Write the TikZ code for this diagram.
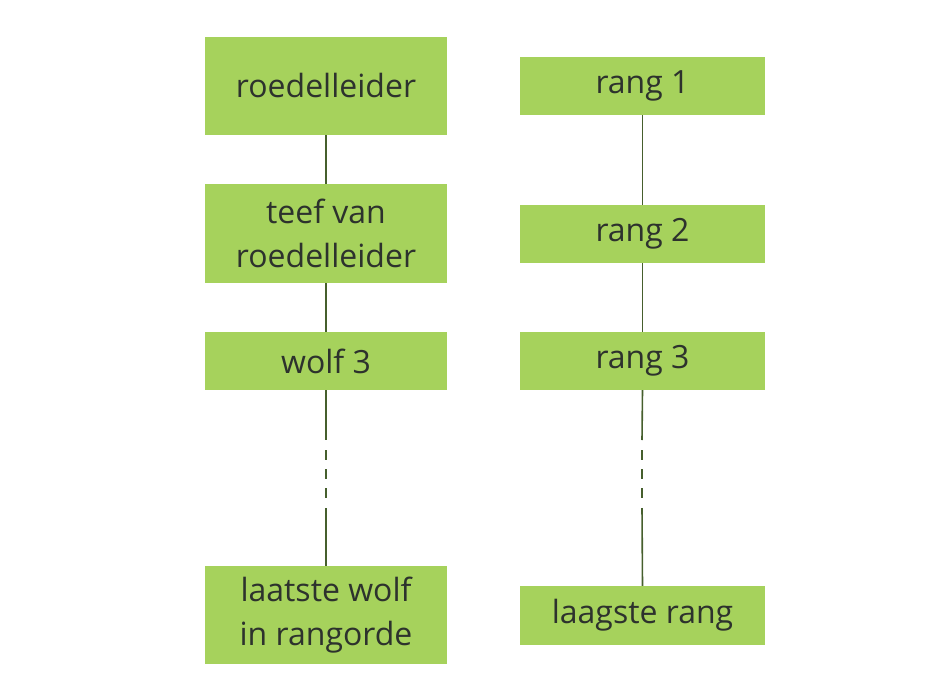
\documentclass[tikz,border=0pt]{standalone}
\usepackage{fontspec}
\setmainfont{Open Sans}
\definecolor{boxgreen}{RGB}{166,210,92}
\definecolor{txt}{RGB}{45,50,45}
\definecolor{ln}{RGB}{70,95,45}
\begin{document}
\begin{tikzpicture}[x=1pt,y=-1pt,
  box/.style={fill=boxgreen,draw=none,inner sep=0pt,align=center,text=txt,font=\fontsize{32}{44}\selectfont},
  conn/.style={draw=ln,line width=1.6pt},
  dsh/.style={conn,dash pattern=on 10pt off 9pt}]
\useasboundingbox (0,0) rectangle (950,698);
% left column
\node[box,minimum width=242pt,minimum height=98pt] (l1) at (326,86) {roedelleider};
\node[box,minimum width=242pt,minimum height=99pt] (l2) at (326,233.5) {teef van\\roedelleider};
\node[box,minimum width=242pt,minimum height=58pt] (l3) at (326,361) {wolf 3};
\node[box,minimum width=242pt,minimum height=98pt] (l4) at (326,615) {laatste wolf\\in rangorde};
% right column
\node[box,minimum width=245pt,minimum height=58pt] (r1) at (642.5,86) {rang 1};
\node[box,minimum width=245pt,minimum height=58pt] (r2) at (642.5,234) {rang 2};
\node[box,minimum width=245pt,minimum height=58pt] (r3) at (642.5,361) {rang 3};
\node[box,minimum width=245pt,minimum height=59pt] (r4) at (642.5,615.5) {laagste rang};
% left connectors
\draw[conn] (l1.south) -- (l2.north);
\draw[conn] (l2.south) -- (l3.north);
\coordinate (la) at (326,440);
\coordinate (lb) at (326,450);
\coordinate (lc) at (326,498);
\coordinate (ld) at (326,508);
\draw[conn] (l3.south) -- (la);
\draw[dsh] (lb) -- (lc);
\draw[conn] (ld) -- (l4.north);
% right connectors
\draw[conn] (r1.south) -- (r2.north);
\draw[conn] (r2.south) -- (r3.north);
\coordinate (ra) at (642,440);
\coordinate (rb) at (642,450);
\coordinate (rc) at (642,498);
\coordinate (rd) at (642,508);
\draw[conn] (r3.south) -- (ra);
\draw[dsh] (rb) -- (rc);
\draw[conn] (rd) -- (r4.north);
\end{tikzpicture}
\end{document}
